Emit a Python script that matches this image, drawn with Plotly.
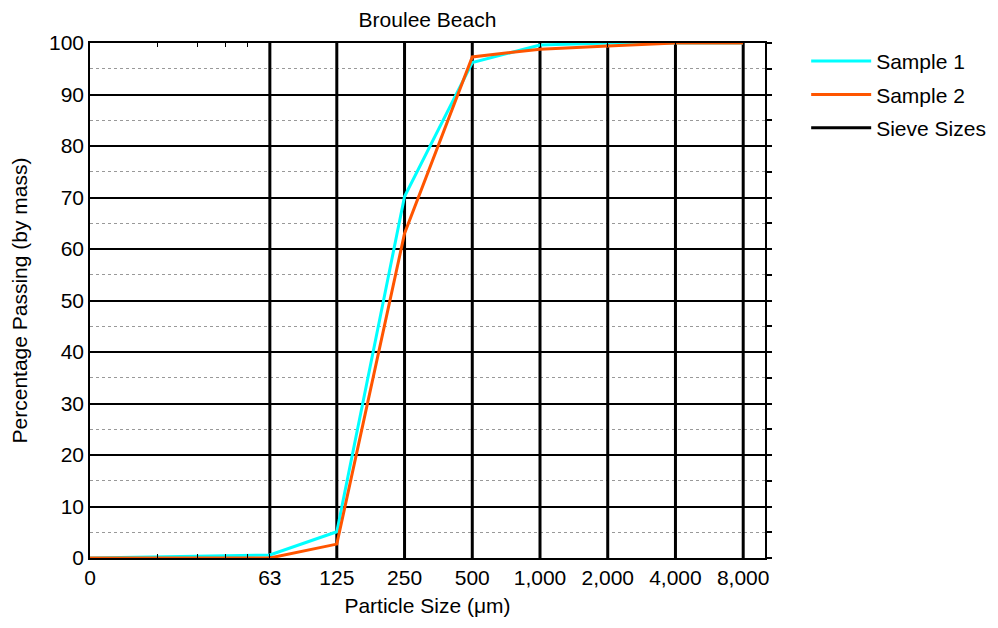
import plotly.graph_objects as go

# Data
sizes = [10, 63, 125, 250, 500, 1000, 2000, 4000, 8000]   # 10 is plotted as "0"
tick_labels = ["0", "63", "125", "250", "500", "1,000", "2,000", "4,000", "8,000"]
sample1 = [0, 0.6, 5.1, 70.2, 96.2, 99.6, 100, 100, 100]
sample2 = [0, 0.0, 2.7, 63.0, 97.3, 98.8, 99.4, 100, 100]
sieve_sizes = [63, 125, 250, 500, 1000, 2000, 4000, 8000]
minor_ticks = [20, 30, 40, 50]

sx, sy = [], []
for s in sieve_sizes:
    sx += [s, s, None]
    sy += [0, 100, None]

FONT = "Liberation Sans, Arial, sans-serif"
FS = 21

fig = go.Figure()
fig.add_trace(go.Scatter(x=sx, y=sy, mode="lines", name="Sieve Sizes",
                         line=dict(color="black", width=3), legendrank=3,
                         legendgroup="c", hoverinfo="skip"))
fig.add_trace(go.Scatter(x=sizes, y=sample1, mode="lines", name="Sample 1",
                         line=dict(color="#00FFFF", width=3), legendrank=1,
                         legendgroup="a"))
fig.add_trace(go.Scatter(x=sizes, y=sample2, mode="lines", name="Sample 2",
                         line=dict(color="#FF5500", width=3), legendrank=2,
                         legendgroup="b"))
# invisible trace to host right axis ticks
fig.add_trace(go.Scatter(x=[sizes[0]], y=[0], yaxis="y2", mode="markers",
                         marker=dict(opacity=0), showlegend=False, hoverinfo="skip"))

fig.update_layout(
    width=998, height=628,
    margin=dict(l=82, r=241, t=35, b=78, autoexpand=False),
    paper_bgcolor="white", plot_bgcolor="white",
    font=dict(family=FONT, size=FS, color="black"),
    title=dict(text="Broulee Beach", x=0.5, xref="paper", y=1 - 12 / 628, yref="container",
               xanchor="center", yanchor="middle", font=dict(size=FS, family=FONT),
               automargin=False),
    showlegend=True,
    legend=dict(x=1.061, y=1.004, xanchor="left", yanchor="top",
                font=dict(size=FS), tracegroupgap=3, itemwidth=60,
                bgcolor="rgba(0,0,0,0)"),
    xaxis=dict(
        type="log", range=[1, 4], automargin=False,
        tickvals=sizes, ticktext=tick_labels,
        showgrid=False, zeroline=False,
        showline=True, linecolor="black", linewidth=1.5, mirror="allticks",
        ticks="inside", ticklen=4, tickcolor="black",
        minor=dict(tickvals=minor_ticks, ticks="inside", ticklen=4, tickcolor="black", showgrid=False),
        title=dict(text="Particle Size (μm)", font=dict(size=FS), standoff=10),
        tickfont=dict(size=FS),
    ),
    yaxis=dict(
        range=[0, 100], dtick=10, tick0=0, automargin=False,
        showgrid=True, gridcolor="black", gridwidth=1.5,
        zeroline=False,
        showline=True, linecolor="black", linewidth=1.5,
        ticks="",
        minor=dict(dtick=5, showgrid=True, gridcolor="#999999", griddash="dot", gridwidth=1),
        title=dict(text="Percentage Passing (by mass)", font=dict(size=FS), standoff=17),
        tickfont=dict(size=FS),
    ),
    yaxis2=dict(
        overlaying="y", side="right", range=[0, 100], dtick=5, tick0=0, automargin=False,
        showgrid=False, zeroline=False, showticklabels=False,
        showline=True, linecolor="black", linewidth=1.5,
        ticks="outside", ticklen=5, tickcolor="black", tickwidth=1.5,
    ),
)

fig.write_html("out.html")
